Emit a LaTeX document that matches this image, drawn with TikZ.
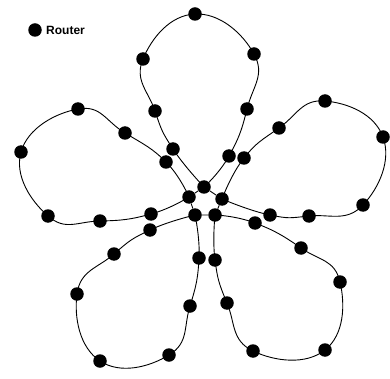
\documentclass[tikz,border=0pt]{standalone}
\usepackage{fontspec}
\setmainfont{Liberation Sans}
\begin{document}
\begin{tikzpicture}[x=1pt,y=-1pt,
  router/.style={circle,fill=black,inner sep=0pt,minimum size=13.5pt},
  link/.style={line width=0.9pt},
  petal/.style={line width=0.9pt,smooth,tension=0.8}]
\useasboundingbox (0,0) rectangle (390,379);
% legend
\node[router] (leg) at (35,30) {};
\node[anchor=west,font=\bfseries\fontsize{12}{14}\selectfont,inner sep=0pt] (legtxt) at (46,30) {Router};
% center pentagon
\node[router] (T) at (204,187) {};
\node[router] (L) at (189,197) {};
\node[router] (R) at (222,199) {};
\node[router] (BL) at (195,215) {};
\node[router] (BR) at (215,215) {};
% top petal
\node[router] (t1) at (173,149) {};
\node[router] (t2) at (155,111) {};
\node[router] (t3) at (143,59) {};
\node[router] (t4) at (195,14) {};
\node[router] (t5) at (254,54) {};
\node[router] (t6) at (247,109) {};
\node[router] (t7) at (229,156) {};
% right petal
\node[router] (r1) at (244,158) {};
\node[router] (r2) at (279,128) {};
\node[router] (r3) at (325,101) {};
\node[router] (r4) at (383,137) {};
\node[router] (r5) at (363,205) {};
\node[router] (r6) at (309,216) {};
\node[router] (r7) at (270,215) {};
% bottom-right petal
\node[router] (s1) at (255,223) {};
\node[router] (s2) at (301,248) {};
\node[router] (s3) at (340,282) {};
\node[router] (s4) at (325,350) {};
\node[router] (s5) at (253,351) {};
\node[router] (s6) at (227,303) {};
\node[router] (s7) at (215,260) {};
% bottom-left petal
\node[router] (b1) at (199,258) {};
\node[router] (b2) at (190,306) {};
\node[router] (b3) at (169,355) {};
\node[router] (b4) at (100,361) {};
\node[router] (b5) at (77,294) {};
\node[router] (b6) at (114,254) {};
\node[router] (b7) at (150,230) {};
% left petal
\node[router] (l1) at (151,214) {};
\node[router] (l2) at (100,221) {};
\node[router] (l3) at (48,216) {};
\node[router] (l4) at (21,152) {};
\node[router] (l5) at (78,109) {};
\node[router] (l6) at (125,133) {};
\node[router] (l7) at (166,162) {};
% petals
\draw[petal] plot coordinates {(T) (t1) (t2) (t3) (t4) (t5) (t6) (t7) (T)};
\draw[petal] plot coordinates {(R) (r1) (r2) (r3) (r4) (r5) (r6) (r7) (R)};
\draw[petal] plot coordinates {(BR) (s1) (s2) (s3) (s4) (s5) (s6) (s7) (BR)};
\draw[petal] plot coordinates {(BL) (b1) (b2) (b3) (b4) (b5) (b6) (b7) (BL)};
\draw[petal] plot coordinates {(L) (l1) (l2) (l3) (l4) (l5) (l6) (l7) (L)};
% ring
\draw[link] (T) -- (L) -- (BL) -- (BR) -- (R) -- (T);
\end{tikzpicture}
\end{document}
